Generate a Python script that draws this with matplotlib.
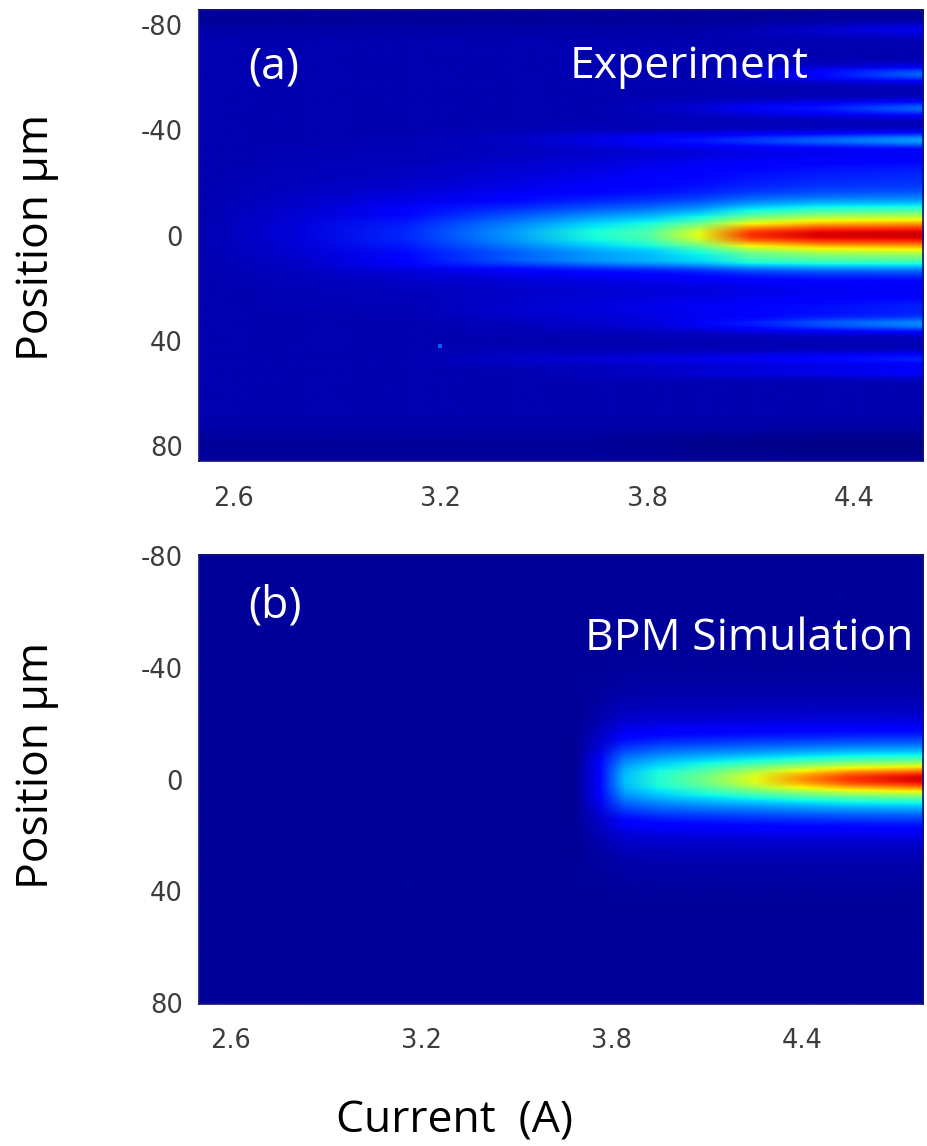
import numpy as np
import matplotlib
matplotlib.use("Agg")
import matplotlib.pyplot as plt
from matplotlib.image import NonUniformImage

# ---------------- panel (a): experiment ----------------
exp_current = [2.5, 2.8, 3.1, 3.4, 3.65, 3.8, 3.95, 4.1, 4.3, 4.6]
# central beam: narrow core, main body, broad halo (jet-scale intensity)
exp_core = [0.00, 0.00, 0.00, 0.00, 0.02, 0.04, 0.14, 0.22, 0.18, 0.15]
exp_body = [0.00, 0.02, 0.08, 0.17, 0.24, 0.27, 0.34, 0.49, 0.58, 0.62]
exp_halo = [0.00, 0.02, 0.04, 0.06, 0.08, 0.09, 0.10, 0.11, 0.12, 0.12]
exp_background = 0.045
# side filaments: position (um), width (um), intensity per current column
exp_line_pos = [-82, -78, -61, -48, -36, -24, 10, 28, 34, 47, 52, 80]
exp_line_width = [3, 2.0, 2.0, 2.0, 2.0, 6, 1.8, 4, 2.0, 1.8, 1.6, 5]
exp_line_amp = [
    [-0.02, -0.02, -0.02, -0.02, -0.02, -0.02, -0.02, -0.02, -0.02, -0.02],
    [0.00, 0.00, 0.00, 0.00, 0.00, 0.00, 0.00, 0.01, 0.03, 0.06],
    [0.00, 0.00, 0.00, 0.00, 0.00, 0.00, 0.00, 0.03, 0.08, 0.18],
    [0.00, 0.00, 0.00, 0.00, 0.00, 0.01, 0.03, 0.06, 0.10, 0.18],
    [0.00, 0.00, 0.00, 0.01, 0.04, 0.07, 0.09, 0.12, 0.16, 0.22],
    [0.00, 0.00, 0.00, 0.01, 0.02, 0.03, 0.04, 0.05, 0.06, 0.07],
    [0.00, 0.00, 0.02, 0.05, 0.07, 0.08, 0.08, 0.08, 0.06, 0.05],
    [0.00, 0.00, 0.00, 0.02, 0.03, 0.04, 0.05, 0.06, 0.08, 0.10],
    [0.00, 0.00, 0.00, 0.00, 0.01, 0.02, 0.04, 0.08, 0.13, 0.18],
    [0.00, 0.00, 0.00, 0.02, 0.03, 0.04, 0.05, 0.06, 0.08, 0.11],
    [0.00, 0.00, 0.00, 0.00, 0.01, 0.02, 0.03, 0.04, 0.05, 0.07],
    [-0.02, -0.02, -0.02, -0.02, -0.02, -0.025, -0.03, -0.03, -0.035, -0.035],
]
# isolated bright speck in the measurement
exp_spot_current = [3.2]
exp_spot_position = [42]

# ---------------- panel (b): BPM simulation ----------------
sim_current = [2.5, 3.6, 3.68, 3.76, 3.84, 3.95, 4.10, 4.25, 4.40, 4.55, 4.78]
sim_core = [0.00, 0.00, 0.00, 0.00, 0.00, 0.02, 0.08, 0.18, 0.28, 0.35, 0.40]
sim_body = [0.00, 0.00, 0.00, 0.06, 0.20, 0.25, 0.29, 0.32, 0.35, 0.38, 0.40]
sim_halo = [0.00, 0.00, -0.008, 0.04, 0.09, 0.10, 0.10, 0.10, 0.10, 0.10, 0.10]
sim_background = 0.025

tick_currents = [2.6, 3.2, 3.8, 4.4]
tick_positions = [-80, -40, 0, 40, 80]
tick_labels_y = ["-80", "-40", "0", "40", "80"]
tick_labels_x = ["2.6", "3.2", "3.8", "4.4"]


def gauss(y, c, s):
    return np.exp(-0.5 * ((y - c) / s) ** 2)


def beam_field(y, currents, bg, core, body, halo, core_w, body_w, halo_w, halo_c,
               line_pos=(), line_w=(), line_amp=()):
    Z = np.full((len(y), len(currents)), bg, dtype=float)
    Z += np.outer(gauss(y, 0.0, core_w), core)
    Z += np.outer(gauss(y, 0.0, body_w), body)
    Z += np.outer(gauss(y, halo_c, halo_w), halo)
    for p, w, a in zip(line_pos, line_w, line_amp):
        Z += np.outer(gauss(y, p, w), a)
    return np.clip(Z, 0, 1)


def draw_field(ax, currents, y, Z):
    im = NonUniformImage(ax, interpolation="bilinear", cmap="jet",
                         extent=(currents[0], currents[-1], y[0], y[-1]))
    im.set_clim(0, 1)
    im.set_data(np.asarray(currents, float), y, Z)
    ax.add_image(im)


W, H = 927, 1146
fig = plt.figure(figsize=(W / 100, H / 100), dpi=100)

ax_a = fig.add_axes([199 / W, 1 - 461 / H, 724 / W, 451 / H])
ax_b = fig.add_axes([199 / W, 1 - 1004 / H, 724 / W, 449 / H])

y = np.linspace(-88, 88, 900)

Za = beam_field(y, exp_current, exp_background, exp_core, exp_body, exp_halo,
                3.0, 7.5, 14.0, -3.0, exp_line_pos, exp_line_width, exp_line_amp)
draw_field(ax_a, exp_current, y, Za)
ax_a.plot(exp_spot_current, exp_spot_position, "s", ms=2.2, mew=0,
          color=plt.get_cmap("jet")(0.22))
ax_a.set_xlim(2.5, 4.6)
ax_a.set_ylim(85.5, -85.5)

Zb = beam_field(y, sim_current, sim_background, sim_core, sim_body, sim_halo,
                3.5, 8.5, 16.0, 0.0)
draw_field(ax_b, sim_current, y, Zb)
ax_b.set_xlim(2.5, 4.78)
ax_b.set_ylim(80.5, -80.5)

tick_color = "#3c3c3c"
for ax, xpad in ((ax_a, 18), (ax_b, 17)):
    ax.set_xticks(tick_currents)
    ax.set_xticklabels(tick_labels_x)
    ax.set_yticks(tick_positions)
    ax.set_yticklabels(tick_labels_y)
    ax.tick_params(axis="x", length=0, pad=xpad, labelsize=18.5, labelcolor=tick_color)
    ax.tick_params(axis="y", length=0, pad=11.5, labelsize=18.5, labelcolor=tick_color)
    for sp in ax.spines.values():
        sp.set_color("#12127a")
        sp.set_linewidth(1.2)

big = dict(family=["Open Sans", "DejaVu Sans"], fontsize=32)

ax_a.text(49 / 724, 1 - 68 / 451, "(a)", color="white", ha="left", va="baseline",
          transform=ax_a.transAxes, **big)
ax_a.text(371 / 724, 1 - 68 / 451, "Experiment", color="white", ha="left", va="baseline",
          transform=ax_a.transAxes, **big)
ax_b.text(49 / 724, 1 - 63 / 449, "(b)", color="white", ha="left", va="baseline",
          transform=ax_b.transAxes, **big)
ax_b.text(386 / 724, 1 - 95 / 449, "BPM Simulation", color="white", ha="left", va="baseline",
          transform=ax_b.transAxes, **big)

fig.text(37 / W, 1 - 237 / H, "Position μm", rotation=90, ha="center", va="center",
         color="black", **big)
fig.text(37 / W, 1 - 765 / H, "Position μm", rotation=90, ha="center", va="center",
         color="black", **big)
fig.text(455 / W, (H - 1133) / H, "Current  (A)", ha="center", va="baseline",
         color="black", **big)

fig.savefig("out.png", dpi=100)
